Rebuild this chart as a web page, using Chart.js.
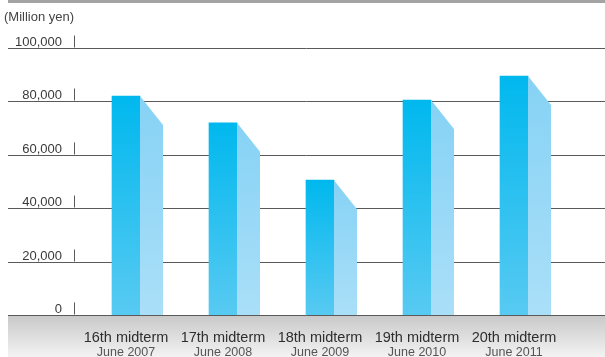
<!DOCTYPE html>
<html>
<head>
<meta charset="utf-8">
<script src="https://cdn.jsdelivr.net/npm/chart.js@4"></script>
<style>
  html, body { margin: 0; padding: 0; background: #fff; }
  #wrap { width: 605px; height: 357px; position: relative; }
</style>
</head>
<body>
<div id="wrap"><canvas id="salesBar"></canvas></div>
<script>
// Sales by midterm period (million yen)
const terms = ["16th midterm", "17th midterm", "18th midterm", "19th midterm", "20th midterm"];
const periods = ["June 2007", "June 2008", "June 2009", "June 2010", "June 2011"];
const sales = [82000, 72000, 50500, 80500, 89500];
const yTicks = [0, 20000, 40000, 60000, 80000, 100000];
const unitLabel = "(Million yen)";

const FONT = "'Liberation Sans', Arial, sans-serif";
const FRONT_W = 28, SIDE_W = 23, SIDE_DROP = 29;

// grid, tick labels, bottom band, side faces of the bars, category labels
const decor = {
    id: "decor",
    beforeDatasetsDraw(chart) {
        const { ctx, width, height } = chart;
        const y = chart.scales.y;
        const base = Math.round(y.getPixelForValue(0));
        ctx.save();
        ctx.fillStyle = "#a3a3a3";
        ctx.fillRect(8, 0, width - 8, 3);

        const band = ctx.createLinearGradient(0, base, 0, height);
        band.addColorStop(0, "#c8c8c8");
        band.addColorStop(1, "#f3f3f3");
        ctx.fillStyle = band;
        ctx.fillRect(8, base, width - 8, height - base);

        ctx.fillStyle = "#444";
        ctx.font = "13px " + FONT;
        ctx.textAlign = "left";
        ctx.textBaseline = "alphabetic";
        ctx.fillText(unitLabel, 4, 21);

        ctx.strokeStyle = "#5a5a5a";
        ctx.lineWidth = 1;
        yTicks.forEach(v => {
            const py = Math.round(y.getPixelForValue(v)) + 0.5;
            ctx.beginPath();
            ctx.moveTo(8, py);
            ctx.lineTo(width, py);
            ctx.moveTo(74.5, py - 13);
            ctx.lineTo(74.5, py - 1);
            ctx.stroke();
            ctx.fillStyle = "#3a3a3a";
            ctx.textAlign = "right";
            ctx.fillText(v.toLocaleString("en-US"), 62, py - 3);
        });
        ctx.restore();
    },
    afterDatasetsDraw(chart) {
        const { ctx } = chart;
        ctx.save();
        chart.getDatasetMeta(0).data.forEach(bar => {
            const { x, y, base } = bar.getProps(["x", "y", "base"], true);
            const l = x + FRONT_W / 2, r = l + SIDE_W;
            const g = ctx.createLinearGradient(0, y, 0, base);
            g.addColorStop(0, "#86d2f5");
            g.addColorStop(1, "#aadff8");
            ctx.fillStyle = g;
            ctx.beginPath();
            ctx.moveTo(l, y);
            ctx.lineTo(r, y + SIDE_DROP);
            ctx.lineTo(r, base);
            ctx.lineTo(l, base);
            ctx.closePath();
            ctx.fill();
        });
        ctx.restore();
    },
    afterDraw(chart) {
        const { ctx } = chart;
        const x = chart.scales.x;
        ctx.save();
        ctx.textAlign = "center";
        ctx.textBaseline = "alphabetic";
        terms.forEach((t, i) => {
            const px = x.getPixelForValue(i);
            ctx.fillStyle = "#2e2e2e";
            ctx.font = "14.5px " + FONT;
            ctx.fillText(t, px, 342);
            ctx.fillStyle = "#555";
            ctx.font = "12.5px " + FONT;
            ctx.fillText(periods[i], px, 356);
        });
        ctx.restore();
    }
};

const salesCtx = document.getElementById("salesBar");
new Chart(salesCtx, {
    type: "bar",
    data: {
        labels: terms,
        datasets: [{
            label: "Sales",
            data: sales,
            barThickness: FRONT_W,
            borderWidth: 0,
            backgroundColor(c) {
                const chart = c.chart;
                if (!chart.chartArea || c.raw === undefined) return "#00b8ee";
                const y = chart.scales.y;
                const top = y.getPixelForValue(c.raw), base = y.getPixelForValue(0);
                const g = chart.ctx.createLinearGradient(0, top, 0, base);
                g.addColorStop(0, "#00b8ee");
                g.addColorStop(1, "#58caf2");
                return g;
            }
        }]
    },
    options: {
        responsive: true,
        maintainAspectRatio: false,
        animation: false,
        layout: { padding: { left: 77.5, right: 42.5, top: 48, bottom: 42 } },
        plugins: { legend: { display: false }, tooltip: { enabled: false } },
        scales: {
            x: { display: false, offset: true },
            y: { display: false, min: 0, max: 100000 }
        }
    },
    plugins: [decor]
});
</script>
</body>
</html>
